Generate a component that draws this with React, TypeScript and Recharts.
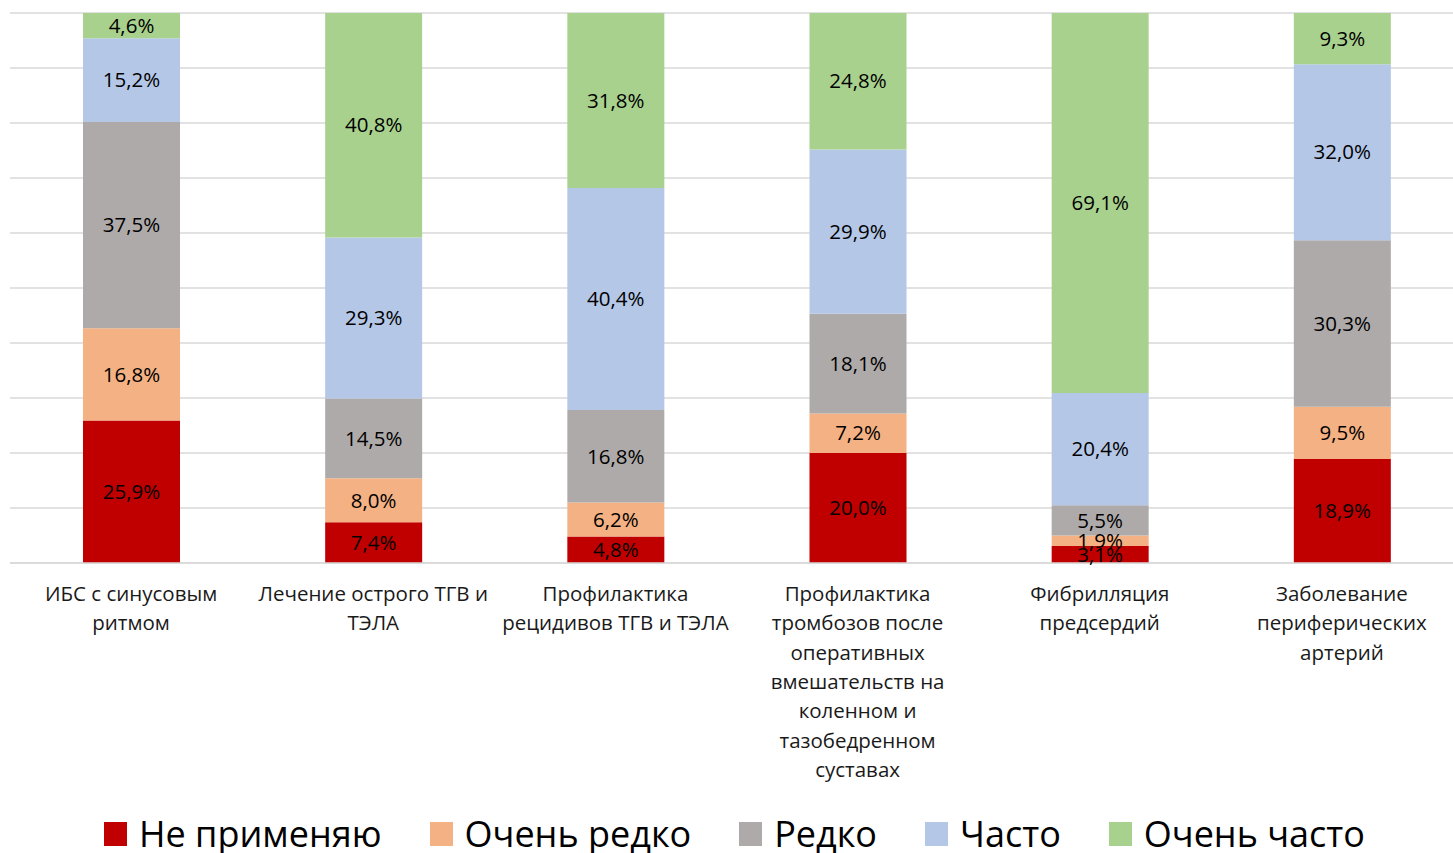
import React from 'react';
import {
  BarChart, Bar, XAxis, YAxis, CartesianGrid, Legend, LabelList,
} from 'recharts';

const categories = [
  'ИБС с синусовым\nритмом',
  'Лечение острого ТГВ и\nТЭЛА',
  'Профилактика\nрецидивов ТГВ и ТЭЛА',
  'Профилактика\nтромбозов после\nоперативных\nвмешательств на\nколенном и\nтазобедренном\nсуставах',
  'Фибрилляция\nпредсердий',
  'Заболевание\nпериферических\nартерий',
];

const nePrimenyayu = [25.9, 7.4, 4.8, 20.0, 3.1, 18.9];
const ochenRedko   = [16.8, 8.0, 6.2, 7.2, 1.9, 9.5];
const redko        = [37.5, 14.5, 16.8, 18.1, 5.5, 30.3];
const chasto       = [15.2, 29.3, 40.4, 29.9, 20.4, 32.0];
const ochenChasto  = [4.6, 40.8, 31.8, 24.8, 69.1, 9.3];

const yTicks = [0, 10, 20, 30, 40, 50, 60, 70, 80, 90, 100];

const series = [
  { key: 'ne',   name: 'Не применяю', color: '#C00000' },
  { key: 'or',   name: 'Очень редко', color: '#F4B183' },
  { key: 'r',    name: 'Редко',       color: '#AEAAAA' },
  { key: 'ch',   name: 'Часто',       color: '#B4C7E7' },
  { key: 'och',  name: 'Очень часто', color: '#A9D18E' },
];

const data = categories.map((c, i) => ({
  cat: c,
  ne: nePrimenyayu[i],
  or: ochenRedko[i],
  r: redko[i],
  ch: chasto[i],
  och: ochenChasto[i],
}));

const FONT = '"Open Sans", Lato, sans-serif';

const fmt = (v: number) => `${v.toFixed(1).replace('.', ',')}%`;

const CatTick = ({ x, y, payload }: any) => {
  const lines = String(payload.value).split('\n');
  return (
    <text x={x} y={y} textAnchor="middle" fontSize={20.5} fontFamily={FONT} fill="#1a1a1a">
      {lines.map((l, i) => (
        <tspan key={i} x={x} dy={i === 0 ? 30 : 29.3}>{l}</tspan>
      ))}
    </text>
  );
};

const LegendBox = () => (
  <div style={{ display: 'flex', paddingLeft: 94, paddingTop: 22, alignItems: 'center', height: 60, boxSizing: 'border-box' }}>
    {series.map((s) => (
      <div key={s.key} style={{ display: 'flex', alignItems: 'center', marginRight: 48, height: 30 }}>
        <span style={{ width: 23, height: 24, background: s.color, display: 'inline-block', marginRight: 12 }} />
        <span style={{ fontFamily: FONT, fontSize: 36, color: '#000', lineHeight: '30px' }}>{s.name}</span>
      </div>
    ))}
  </div>
);

export default function App() {
  return (
    <div style={{ position: 'absolute', left: 0, top: 0, width: 1453, height: 853, overflow: 'hidden', background: '#fff' }}>
      <BarChart
        width={1463}
        height={853}
        data={data}
        margin={{ top: 13, right: 0, bottom: 0, left: 10 }}
        barSize={97}
      >
        <CartesianGrid vertical={false} stroke="#D9D9D9" strokeWidth={1.5} />
        <YAxis hide domain={[0, 100]} ticks={yTicks} />
        <XAxis
          dataKey="cat"
          interval={0}
          tickLine={false}
          axisLine={{ stroke: '#D9D9D9', strokeWidth: 1.5 }}
          height={230}
          tick={<CatTick />}
        />
        <Legend verticalAlign="bottom" height={60} content={<LegendBox />} />
        {series.map((s) => (
          <Bar key={s.key} dataKey={s.key} name={s.name} stackId="a" fill={s.color} isAnimationActive={false}>
            <LabelList dataKey={s.key} position="center" formatter={(v: any) => fmt(Number(v))}
              style={{ fontSize: 20.5, fontFamily: FONT, fill: '#000' }} />
          </Bar>
        ))}
      </BarChart>
    </div>
  );
}
